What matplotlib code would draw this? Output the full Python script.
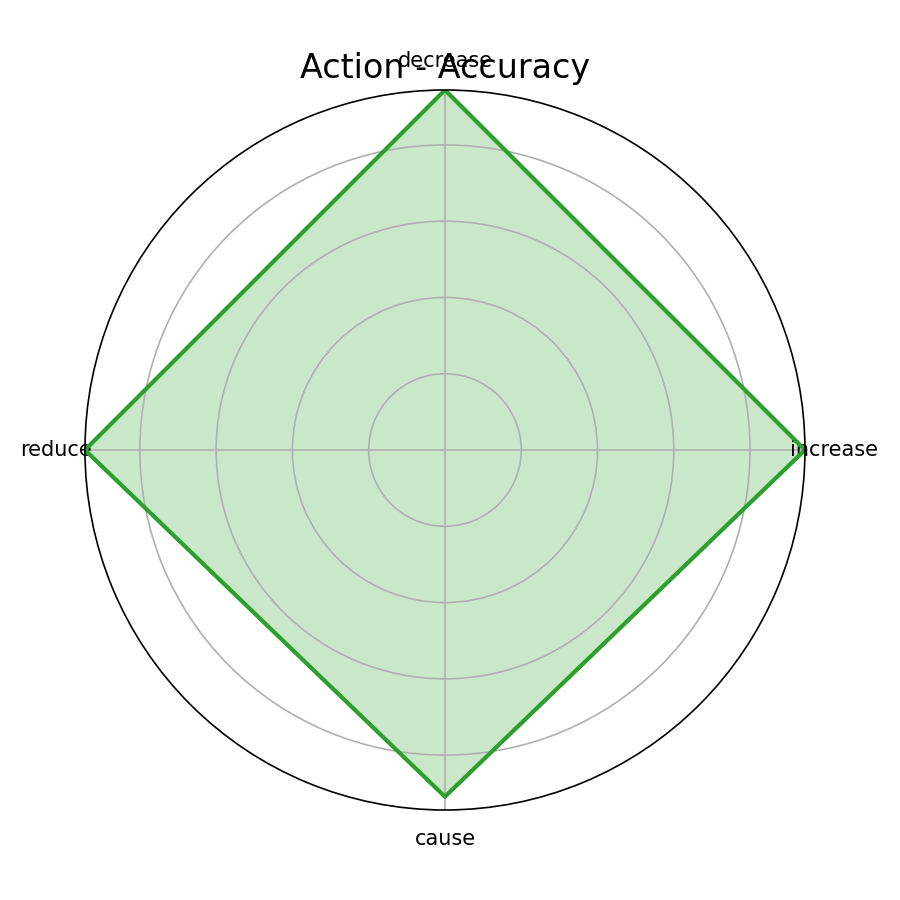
import matplotlib
matplotlib.use("Agg")
import matplotlib.pyplot as plt
import numpy as np

# radar data: action words and accuracy
categories = ["increase", "decrease", "reduce", "cause"]
accuracy = [0.944, 0.944, 0.944, 0.909]

angles = np.linspace(0, 2 * np.pi, len(categories), endpoint=False).tolist()
values = accuracy + accuracy[:1]
angles_closed = angles + angles[:1]

fig, ax = plt.subplots(figsize=(6, 6), subplot_kw=dict(polar=True))

ax.plot(angles_closed, values, color="tab:green", linewidth=2)
ax.fill(angles_closed, values, color="tab:green", alpha=0.25)

ax.set_xticks(angles)
ax.set_xticklabels(categories)
ax.set_yticklabels([])
ax.set_ylim(0, max(accuracy))
# fixed y keeps the title where it was, overlapping the top label
ax.set_title("Action - Accuracy", fontsize=16, y=1.0)

fig.subplots_adjust(left=0.0944, right=0.8944, bottom=0.1, top=0.9)
plt.savefig("out.png", dpi=150)
